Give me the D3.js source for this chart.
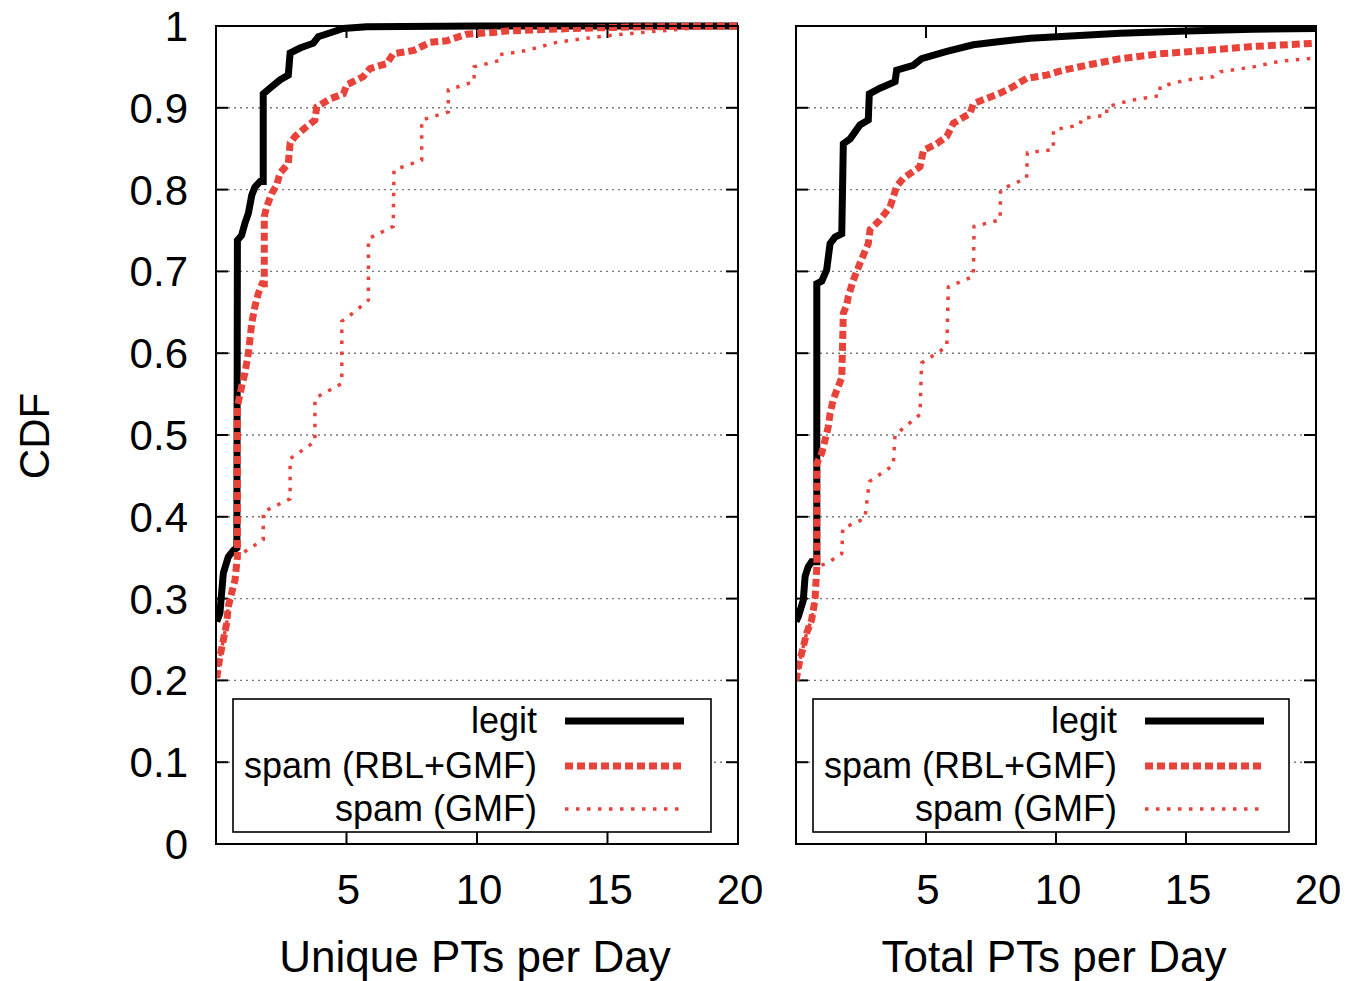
<!DOCTYPE html>
<html>
<head>
<meta charset="utf-8">
<script src="https://cdn.jsdelivr.net/npm/d3@7"></script>
<style>
  body { margin: 0; background: #fff; }
  svg { display: block; font-family: "Liberation Sans", Arial, sans-serif; }
</style>
</head>
<body>
<svg id="chart" width="1351" height="981"></svg>
<script>
// data, [PTs per day, CDF]
let uniqueLegit = [[0.03,0.272],[0.15,0.282],[0.28,0.331],[0.47,0.351],[0.67,0.359],[0.80,0.362],[0.82,0.738],
    [0.98,0.744],[1.11,0.759],[1.24,0.771],[1.37,0.793],[1.49,0.803],[1.69,0.81],[1.81,0.81],[1.81,0.917],
    [2.07,0.924],[2.45,0.934],[2.77,0.94],[2.84,0.967],[3.22,0.973],[3.73,0.979],[3.92,0.987],[4.50,0.993],
    [4.87,0.997],[5.77,0.999],[10,1.0],[20,1.0]];
let uniqueSpamAll = [[0.03,0.203],[0.15,0.229],[0.28,0.249],[0.41,0.27],[0.47,0.29],[0.6,0.307],[0.73,0.323],
    [0.82,0.351],[0.82,0.535],[0.98,0.559],[1.11,0.576],[1.24,0.6],[1.37,0.637],[1.49,0.657],[1.62,0.673],
    [1.77,0.685],[1.85,0.685],[1.85,0.767],[1.94,0.779],[2.13,0.795],[2.33,0.806],[2.45,0.82],[2.77,0.832],
    [2.84,0.857],[3.03,0.865],[3.47,0.877],[3.79,0.885],[3.86,0.901],[4.37,0.911],[4.88,0.917],[5.01,0.928],
    [5.64,0.938],[5.9,0.948],[6.54,0.954],[6.79,0.966],[7.56,0.97],[8.2,0.98],[8.84,0.982],[9.6,0.99],
    [10.62,0.992],[11.14,0.994],[13.69,0.997],[16.25,0.999],[20,1.0]];
let uniqueSpamGmf = [[0.03,0.203],[0.15,0.229],[0.28,0.249],[0.41,0.27],[0.47,0.29],[0.6,0.307],[0.73,0.323],
    [0.79,0.351],[1.81,0.372],[1.81,0.406],[2.84,0.422],[2.84,0.471],[3.79,0.492],[3.79,0.545],[4.82,0.563],
    [4.82,0.639],[5.33,0.651],[5.84,0.665],[5.84,0.74],[6.79,0.755],[6.82,0.824],[7.88,0.836],[7.88,0.885],
    [8.9,0.895],[8.9,0.922],[9.89,0.932],[9.89,0.95],[10.88,0.958],[10.88,0.965],[11.9,0.97],[13.05,0.98],
    [13.95,0.984],[14.97,0.988],[16.25,0.992],[18.16,0.997],[20,0.999]];

let totalLegit = [[0.0,0.272],[0.09,0.278],[0.28,0.298],[0.35,0.327],[0.47,0.339],[0.6,0.345],[0.8,0.345],
    [0.8,0.685],[0.99,0.688],[1.18,0.702],[1.31,0.734],[1.5,0.742],[1.76,0.746],[1.82,0.856],[2.08,0.862],
    [2.46,0.879],[2.78,0.885],[2.82,0.917],[3.23,0.924],[3.81,0.932],[3.87,0.946],[4.51,0.952],[4.83,0.96],
    [5.8,0.969],[6.82,0.977],[7.85,0.981],[9.0,0.985],[10.03,0.987],[12.46,0.991],[15.03,0.994],
    [17.58,0.996],[20,0.997]];
let totalSpamAll = [[0.0,0.2],[0.15,0.225],[0.28,0.241],[0.41,0.258],[0.6,0.274],[0.73,0.298],[0.8,0.339],
    [0.8,0.465],[0.99,0.478],[1.12,0.494],[1.24,0.51],[1.31,0.526],[1.43,0.543],[1.57,0.555],[1.76,0.57],
    [1.82,0.649],[1.95,0.659],[2.01,0.669],[2.2,0.689],[2.46,0.71],[2.78,0.734],[2.85,0.751],[3.23,0.763],
    [3.62,0.779],[3.87,0.804],[4.13,0.814],[4.77,0.828],[4.9,0.848],[5.41,0.856],[5.8,0.865],[6.05,0.881],
    [6.69,0.893],[6.82,0.905],[7.85,0.918],[8.36,0.926],[8.87,0.936],[9.64,0.94],[10.28,0.946],[11.18,0.952],
    [12.46,0.96],[14.0,0.966],[15.67,0.97],[17.59,0.975],[20,0.979]];
let totalSpamGmf = [[0.0,0.2],[0.15,0.225],[0.28,0.241],[0.41,0.258],[0.6,0.274],[0.73,0.298],[0.8,0.339],
    [1.18,0.343],[1.76,0.355],[1.8,0.386],[2.65,0.398],[2.82,0.443],[3.74,0.463],[3.81,0.5],[4.77,0.525],
    [4.83,0.588],[5.8,0.608],[5.86,0.681],[6.82,0.694],[6.85,0.755],[7.85,0.763],[7.87,0.8],[8.87,0.814],
    [8.9,0.845],[9.9,0.849],[9.9,0.873],[10.92,0.879],[10.99,0.887],[11.95,0.891],[11.95,0.901],
    [12.85,0.909],[14.0,0.915],[14.0,0.926],[15.03,0.934],[16.05,0.938],[16.31,0.944],[17.59,0.95],
    [18.62,0.957],[20,0.961]];

let yTicks = [0, 0.1, 0.2, 0.3, 0.4, 0.5, 0.6, 0.7, 0.8, 0.9, 1];
let xTicks = [5, 10, 15, 20];
let seriesNames = ["legit", "spam (RBL+GMF)", "spam (GMF)"];

let red = "#e8433a";
let styles = [
    {color: "#000", width: 7, dash: null},
    {color: red, width: 7, dash: "8,4"},
    {color: red, width: 3.5, dash: "3.5,7.5"}
];

let svg = d3.select("#chart");
let plotTop = 26, plotBottom = 844;

let y = d3.scaleLinear().domain([0, 1]).range([plotBottom, plotTop]);

function panel(left, right, series, title) {
    let x = d3.scaleLinear().domain([0, 20]).range([left, right]);
    let g = svg.append("g");

    // dotted grid lines
    g.selectAll(".grid").data(yTicks.filter(d => d > 0 && d < 1)).enter().append("line")
        .attr("x1", left).attr("x2", right)
        .attr("y1", d => y(d)).attr("y2", d => y(d))
        .attr("stroke", "#777").attr("stroke-width", 1.4).attr("stroke-dasharray", "2,4");

    // y ticks, inward on both sides
    g.selectAll(".ytl").data(yTicks).enter().append("line")
        .attr("x1", left).attr("x2", left + 12)
        .attr("y1", d => y(d)).attr("y2", d => y(d))
        .attr("stroke", "#000").attr("stroke-width", 2);
    g.selectAll(".ytr").data(yTicks).enter().append("line")
        .attr("x1", right - 12).attr("x2", right)
        .attr("y1", d => y(d)).attr("y2", d => y(d))
        .attr("stroke", "#000").attr("stroke-width", 2);

    // x ticks, inward top and bottom
    g.selectAll(".xtb").data(xTicks).enter().append("line")
        .attr("x1", d => x(d)).attr("x2", d => x(d))
        .attr("y1", plotBottom).attr("y2", plotBottom - 12)
        .attr("stroke", "#000").attr("stroke-width", 2);
    g.selectAll(".xtt").data(xTicks).enter().append("line")
        .attr("x1", d => x(d)).attr("x2", d => x(d))
        .attr("y1", plotTop).attr("y2", plotTop + 12)
        .attr("stroke", "#000").attr("stroke-width", 2);

    g.selectAll(".xlab").data(xTicks).enter().append("text")
        .attr("x", d => x(d) + 2).attr("y", 904)
        .attr("text-anchor", "middle").attr("font-size", 42)
        .text(d => d);

    g.append("text")
        .attr("x", (left + right) / 2 - 2).attr("y", 972)
        .attr("text-anchor", "middle").attr("font-size", 44)
        .text(title);

    let line = d3.line().x(d => x(d[0])).y(d => y(d[1]));

    let clip = "clip" + left;
    svg.append("clipPath").attr("id", clip).append("rect")
        .attr("x", left).attr("y", plotTop - 6).attr("width", right - left).attr("height", plotBottom - plotTop + 6);

    series.forEach(function(s, i) {
        g.append("path")
            .datum(s)
            .attr("d", line)
            .attr("clip-path", "url(#" + clip + ")")
            .attr("fill", "none")
            .attr("stroke", styles[i].color)
            .attr("stroke-width", styles[i].width)
            .attr("stroke-dasharray", styles[i].dash)
            .attr("stroke-linejoin", "miter");
    });

    // legend
    let lx = left + 17, lw = right - left - 44;
    g.append("rect")
        .attr("x", lx).attr("y", 699).attr("width", lw).attr("height", 133)
        .attr("fill", "#fff").attr("stroke", "#000").attr("stroke-width", 1.6);
    let rows = [721, 766, 809];
    seriesNames.forEach(function(name, i) {
        g.append("text")
            .attr("x", left + 321).attr("y", rows[i] + 12)
            .attr("text-anchor", "end").attr("font-size", 36)
            .text(name);
        g.append("line")
            .attr("x1", left + 349).attr("x2", left + 468)
            .attr("y1", rows[i]).attr("y2", rows[i])
            .attr("stroke", styles[i].color)
            .attr("stroke-width", styles[i].width)
            .attr("stroke-dasharray", styles[i].dash);
    });

    // frame
    g.append("rect")
        .attr("x", left).attr("y", plotTop).attr("width", right - left).attr("height", plotBottom - plotTop)
        .attr("fill", "none").attr("stroke", "#000").attr("stroke-width", 2);
}

panel(216, 738, [uniqueLegit, uniqueSpamAll, uniqueSpamGmf], "Unique PTs per Day");
panel(796, 1316, [totalLegit, totalSpamAll, totalSpamGmf], "Total PTs per Day");

// y tick labels on the left panel only
svg.selectAll(".ylab").data(yTicks).enter().append("text")
    .attr("x", 188).attr("y", d => y(d) + 15)
    .attr("text-anchor", "end").attr("font-size", 42)
    .text(d => d);

svg.append("text")
    .attr("transform", "translate(49,436) rotate(-90)")
    .attr("text-anchor", "middle").attr("font-size", 42)
    .text("CDF");
</script>
</body>
</html>
